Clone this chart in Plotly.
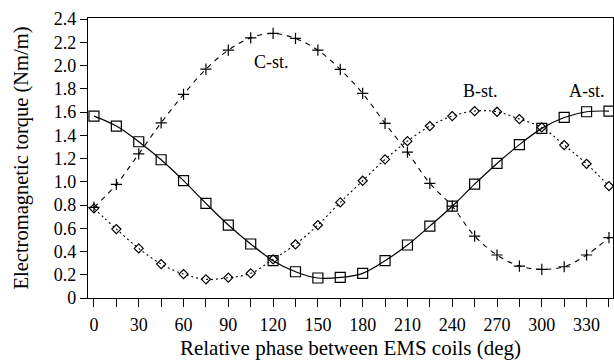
import plotly.graph_objects as go

phase = [0, 15, 30, 45, 60, 75, 90, 105, 120, 135, 150, 165, 180, 195, 210, 225, 240, 255, 270, 285, 300, 315, 330, 345]
a_st = [1.565, 1.48, 1.345, 1.19, 1.01, 0.814, 0.628, 0.465, 0.321, 0.226, 0.172, 0.177, 0.212, 0.321, 0.456, 0.619, 0.79, 0.98, 1.158, 1.32, 1.46, 1.554, 1.603, 1.609]
b_st = [0.771, 0.593, 0.427, 0.292, 0.206, 0.161, 0.175, 0.212, 0.333, 0.462, 0.628, 0.823, 1.009, 1.193, 1.35, 1.48, 1.566, 1.609, 1.603, 1.54, 1.468, 1.316, 1.155, 0.963]
c_st = [0.78, 0.978, 1.24, 1.508, 1.752, 1.97, 2.133, 2.239, 2.277, 2.234, 2.133, 1.967, 1.761, 1.503, 1.255, 0.987, 0.79, 0.533, 0.37, 0.275, 0.247, 0.269, 0.37, 0.519]

x_ticks = list(range(0, 360, 15))
x_labels = [str(v) if v % 30 == 0 else "" for v in x_ticks]
y_ticks = [0, 0.2, 0.4, 0.6, 0.8, 1.0, 1.2, 1.4, 1.6, 1.8, 2.0, 2.2, 2.4]
y_labels = ["0", "0.2", "0.4", "0.6", "0.8", "1.0", "1.2", "1.4", "1.6", "1.8", "2.0", "2.2", "2.4"]

curve_labels = ["C-st.", "B-st.", "A-st."]
label_x = [119, 259, 330]
label_y = [2.03, 1.78, 1.78]

FONT = "Liberation Serif"

fig = go.Figure()
fig.add_trace(go.Scatter(
    x=phase, y=c_st, mode="lines+markers",
    line=dict(color="black", width=1.1, dash="5px,5px", shape="spline"),
    marker=dict(symbol="cross-thin", size=8, line=dict(color="black", width=1.2)),
    showlegend=False))
fig.add_trace(go.Scatter(
    x=phase, y=b_st, mode="lines+markers",
    line=dict(color="black", width=1.1, dash="2px,3px", shape="spline"),
    marker=dict(symbol="diamond-open", size=7, color="black", line=dict(width=1.2)),
    showlegend=False))
fig.add_trace(go.Scatter(
    x=phase, y=a_st, mode="lines+markers",
    line=dict(color="black", width=1.2, shape="spline"),
    marker=dict(symbol="square-open", size=10, color="black", line=dict(width=1.2)),
    showlegend=False))

for t, xx, yy in zip(curve_labels, label_x, label_y):
    fig.add_annotation(x=xx, y=yy, text=t, showarrow=False,
                       font=dict(family=FONT, size=18, color="black"))

fig.update_layout(
    width=614, height=362,
    margin=dict(l=88, r=1, t=18, b=64),
    plot_bgcolor="white", paper_bgcolor="white",
    font=dict(family=FONT, size=18, color="black"),
)
fig.update_xaxes(
    range=[-4, 347.7], tickmode="array", tickvals=x_ticks, ticktext=x_labels,
    ticks="outside", ticklen=8, tickwidth=1.2, tickcolor="black",
    showline=True, linecolor="black", linewidth=1.2, mirror=True,
    showgrid=False, zeroline=False, ticklabelstandoff=2,
    title=dict(text="Relative phase between EMS coils (deg)", font=dict(family=FONT, size=21), standoff=6),
    tickfont=dict(family=FONT, size=18),
)
fig.update_yaxes(
    range=[0, 2.41], tickmode="array", tickvals=y_ticks, ticktext=y_labels,
    ticks="outside", ticklen=7, tickwidth=1.2, tickcolor="black",
    showline=True, linecolor="black", linewidth=1.2, mirror=True,
    showgrid=False, zeroline=False,
    title=dict(text="Electromagnetic torque (Nm/m)", font=dict(family=FONT, size=20.5), standoff=19),
    tickfont=dict(family=FONT, size=18),
)

fig.write_html("out.html")
